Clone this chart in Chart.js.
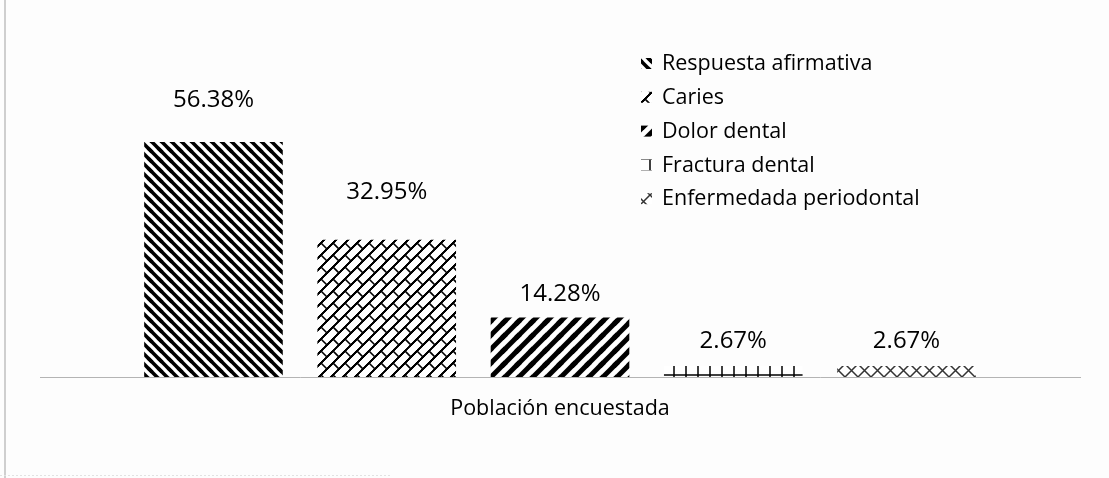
<!DOCTYPE html>
<html>
<head>
<meta charset="utf-8">
<script src="https://cdn.jsdelivr.net/npm/chart.js@4/dist/chart.umd.min.js"></script>
<style>
html,body{margin:0;padding:0;background:#fdfdfd;}
#wrap{width:1109px;height:478px;position:relative;}
</style>
</head>
<body>
<div id="wrap"><canvas id="c"></canvas></div>
<script>
const categories = ["Población encuestada"];
const seriesNames = ["Respuesta afirmativa","Caries","Dolor dental","Fractura dental","Enfermedada periodontal"];
const respuesta = [56.38];
const caries = [32.95];
const dolor = [14.28];
const fractura = [2.67];
const periodontal = [2.67];
const valueLabels = ["56.38%","32.95%","14.28%","2.67%","2.67%"];

const FONT = "'Open Sans', sans-serif";

function tile(w,h,draw){
  const c=document.createElement('canvas');c.width=w;c.height=h;
  const x=c.getContext('2d');x.fillStyle='#ffffff';x.fillRect(0,0,w,h);
  x.strokeStyle='#000';x.lineCap='butt';
  for(const dx of [-w,0,w])for(const dy of [-h,0,h]){x.save();x.translate(dx,dy);draw(x);x.restore();}
  return c;
}
function pat(c){return document.createElement('canvas').getContext('2d').createPattern(c,'repeat');}
// wide downward diagonal
const p1 = tile(10,10,x=>{x.lineWidth=3.6;x.beginPath();x.moveTo(-2,-2);x.lineTo(12,12);x.stroke();});
// diagonal brick
const p2 = tile(24,24,x=>{x.lineWidth=1.6;
  x.beginPath();
  for(const s of [0,12,24,36,48]){x.moveTo(s+10,-10);x.lineTo(s-34,34);}
  x.stroke();
  x.beginPath();
  for(const [a,b] of [[9,3],[21,15],[21,3],[9,15]]){x.moveTo(a,b);x.lineTo(a+6,b+6);}
  x.stroke();
});
// wide upward diagonal
const p3 = tile(14,14,x=>{x.lineWidth=5;x.beginPath();x.moveTo(-2,16);x.lineTo(16,-2);x.stroke();});
// horizontal line with ticks
const p4 = tile(12,12,x=>{x.lineWidth=1.5;x.beginPath();x.moveTo(0,3);x.lineTo(12,3);x.moveTo(2,0);x.lineTo(2,12);x.stroke();});
// X lattice
const p5 = tile(13,13,x=>{x.strokeStyle='#333';x.lineWidth=1.5;x.beginPath();x.moveTo(0,0);x.lineTo(13,13);x.moveTo(13,0);x.lineTo(0,13);x.stroke();});
const tiles=[p1,p2,p3,p4,p5];
const patterns=tiles.map(pat);

const seriesData=[respuesta,caries,dolor,fractura,periodontal];
const labelOffsets=[42,48,23,25,25];

const valueLabelPlugin={
  id:'valueLabels',
  afterDatasetsDraw(chart){
    const ctx=chart.ctx;ctx.save();
    ctx.font="500 24px "+FONT;ctx.fillStyle='#000';ctx.textAlign='center';ctx.textBaseline='middle';
    chart.data.datasets.forEach((ds,i)=>{
      const el=chart.getDatasetMeta(i).data[0];
      ctx.fillText(valueLabels[i],el.x,el.y-labelOffsets[i]);
    });
    ctx.restore();
  }
};
const legendPlugin={
  id:'customLegend',
  afterDraw(chart){
    const ctx=chart.ctx;ctx.save();
    ctx.font="21.5px "+FONT;ctx.fillStyle='#000';ctx.textAlign='left';ctx.textBaseline='middle';
    const x0=641,y0=64,dy=33.8;
    chart.data.datasets.forEach((ds,i)=>{
      const y=y0+i*dy;
      ctx.save();
      ctx.fillStyle=ctx.createPattern(tiles[i],'repeat');
      ctx.fillRect(x0,y-6,11,11);
      ctx.restore();
      ctx.fillText(ds.label,x0+21,y);
    });
    ctx.restore();
  }
};
const framePlugin={
  id:'frame',
  beforeDraw(chart){
    const ctx=chart.ctx;ctx.save();
    ctx.fillStyle='#fdfdfd';ctx.fillRect(0,0,chart.width,chart.height);
    ctx.strokeStyle='#cfcfcf';ctx.lineWidth=2;
    ctx.beginPath();ctx.moveTo(5,0);ctx.lineTo(5,478);ctx.stroke();
    ctx.strokeStyle='#e2e2e2';ctx.lineWidth=1;ctx.setLineDash([2,2]);
    ctx.beginPath();ctx.moveTo(0,475.5);ctx.lineTo(390,475.5);ctx.stroke();
    ctx.restore();
  }
};

new Chart(document.getElementById('c'),{
  type:'bar',
  data:{
    labels:categories,
    datasets:seriesNames.map((n,i)=>({label:n,data:seriesData[i],backgroundColor:patterns[i],borderWidth:0,
      barPercentage:0.80,categoryPercentage:0.833}))
  },
  options:{
    responsive:true,maintainAspectRatio:false,animation:false,
    layout:{padding:{left:40,right:29,top:127,bottom:0}},
    plugins:{legend:{display:false},tooltip:{enabled:false}},
    scales:{
      y:{display:false,min:0,max:60},
      x:{
        grid:{display:false,drawTicks:false},
        border:{display:true,color:'#b4b4b4',width:1},
        ticks:{color:'#000',font:{family:FONT,size:21.5},padding:19},
        afterFit(s){s.height=101;}
      }
    }
  },
  plugins:[framePlugin,valueLabelPlugin,legendPlugin]
});
</script>
</body>
</html>
